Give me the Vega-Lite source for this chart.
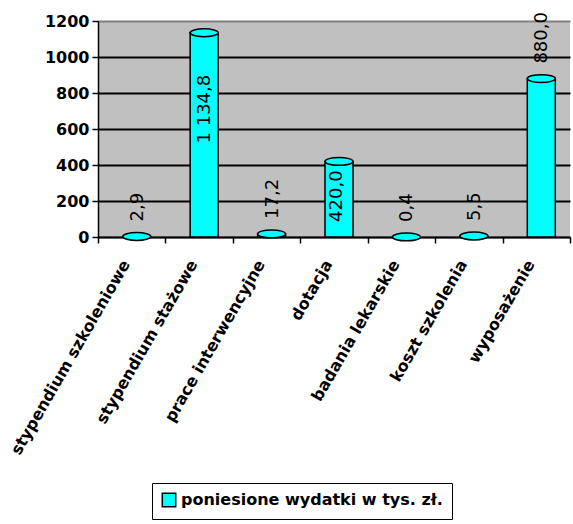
{
  "$schema": "https://vega.github.io/schema/vega-lite/v6.json",
  "width": 472,
  "height": 216,
  "autosize": {"type": "none"},
  "padding": {"left": 98, "top": 21, "right": 3, "bottom": 287},
  "background": "white",
  "config": {
    "locale": {"number": {"decimal": ",", "thousands": " ", "grouping": [3], "currency": ["", " zł"]}},
    "view": {"fill": "#C0C0C0", "stroke": null},
    "font": "DejaVu Sans"
  },
  "data": {
    "values": [
      {"kategoria": "stypendium szkoleniowe", "wartosc": 2.9, "seria": "poniesione wydatki w tys. zł."},
      {"kategoria": "stypendium stażowe", "wartosc": 1134.8, "seria": "poniesione wydatki w tys. zł."},
      {"kategoria": "prace interwencyjne", "wartosc": 17.2, "seria": "poniesione wydatki w tys. zł."},
      {"kategoria": "dotacja", "wartosc": 420.0, "seria": "poniesione wydatki w tys. zł."},
      {"kategoria": "badania lekarskie", "wartosc": 0.4, "seria": "poniesione wydatki w tys. zł."},
      {"kategoria": "koszt szkolenia", "wartosc": 5.5, "seria": "poniesione wydatki w tys. zł."},
      {"kategoria": "wyposażenie", "wartosc": 880.0, "seria": "poniesione wydatki w tys. zł."}
    ]
  },
  "encoding": {
    "x": {
      "field": "kategoria", "type": "nominal", "sort": null,
      "scale": {"paddingInner": 0, "paddingOuter": 0},
      "axis": {
        "title": null, "labelAngle": -60, "labelAlign": "right", "labelBaseline": "middle",
        "labelFont": "DejaVu Sans", "labelFontWeight": "bold", "labelFontSize": 16, "labelColor": "black",
        "tickBand": "extent", "tickColor": "black", "tickSize": 6, "tickWidth": 1.5,
        "domainColor": "black", "domainWidth": 1.5, "labelPadding": 18, "labelOffset": -6, "grid": false, "labelLimit": 400
      }
    },
    "y": {
      "field": "wartosc", "type": "quantitative",
      "scale": {"domain": [0, 1200], "nice": false},
      "axis": {
        "title": null, "values": [0, 200, 400, 600, 800, 1000, 1200], "format": "d",
        "labelFont": "DejaVu Sans", "labelFontWeight": "bold", "labelFontSize": 16, "labelColor": "black",
        "tickColor": "black", "tickSize": 6, "tickWidth": 1.5,
        "domainColor": "black", "domainWidth": 1.5, "labelPadding": 3,
        "grid": true,
        "gridColor": {"condition": {"test": "datum.value == 1200", "value": "#808080"}, "value": "black"},
        "gridWidth": 2
      }
    },
    "color": {
      "field": "seria", "type": "nominal",
      "scale": {"range": ["#00FFFF"]},
      "legend": {
        "title": null, "orient": "none", "legendX": 54, "legendY": 462,
        "strokeColor": "black", "padding": 9,
        "symbolType": "square", "symbolSize": 180, "symbolStrokeColor": "black", "symbolStrokeWidth": 1.5,
        "labelFont": "DejaVu Sans", "labelFontSize": 16, "labelFontWeight": "bold", "labelColor": "black",
        "labelOffset": 4, "labelLimit": 400
      }
    }
  },
  "layer": [
    {
      "mark": {"type": "bar", "size": 28, "stroke": "black", "strokeWidth": 1.5, "xOffset": 5}
    },
    {
      "mark": {
        "type": "point", "shape": "M-1,0A1,0.28,0,1,1,1,0A1,0.28,0,1,1,-1,0Z",
        "size": 784, "filled": true, "stroke": "black", "strokeWidth": 1.5, "opacity": 1, "xOffset": 5
      }
    },
    {
      "transform": [{"filter": "datum.wartosc < 100 || datum.wartosc == 880"}],
      "mark": {"type": "text", "angle": 270, "align": "left", "baseline": "middle", "dx": 15, "fontSize": 18, "font": "DejaVu Sans", "color": "black", "xOffset": 6},
      "encoding": {"text": {"field": "wartosc", "type": "quantitative", "format": ",.1f"}, "color": {"value": "black"}}
    },
    {
      "transform": [{"filter": "datum.wartosc == 420"}],
      "mark": {"type": "text", "angle": 270, "align": "right", "baseline": "middle", "dx": -9, "fontSize": 18, "font": "DejaVu Sans", "color": "black", "xOffset": 3},
      "encoding": {"text": {"field": "wartosc", "type": "quantitative", "format": ",.1f"}, "color": {"value": "black"}}
    },
    {
      "transform": [{"filter": "datum.wartosc > 1000"}],
      "mark": {"type": "text", "angle": 270, "align": "right", "baseline": "middle", "dx": -42, "fontSize": 18, "font": "DejaVu Sans", "color": "black", "xOffset": 6},
      "encoding": {"text": {"field": "wartosc", "type": "quantitative", "format": ",.1f"}, "color": {"value": "black"}}
    }
  ]
}
